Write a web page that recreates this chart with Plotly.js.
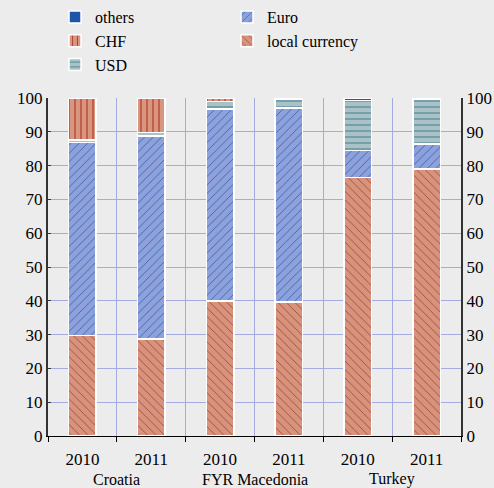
<!DOCTYPE html>
<html><head><meta charset="utf-8">
<script src="https://cdn.plot.ly/plotly-3.0.1.min.js"></script>
<style>body{margin:0;background:#ececec}#c{width:494px;height:488px}</style>
</head><body><div id="c"></div>
<script>
const countries = ["Croatia","Croatia","FYR Macedonia","FYR Macedonia","Turkey","Turkey"];
const years = ["2010","2011","2010","2011","2010","2011"];
const localCurrency = [29.7, 28.7, 40.0, 39.7, 76.5, 79.0];
const euro = [57.2, 60.1, 56.7, 57.3, 8.0, 7.4];
const usd = [0.7, 1.0, 2.3, 2.5, 14.8, 13.1];
const chf = [12.4, 10.2, 1.0, 0.5, 0.0, 0.0];
const others = [0.0, 0.0, 0.0, 0.0, 0.7, 0.5];
const yTicks = [0,10,20,30,40,50,60,70,80,90,100];

const x = years.map((_, i) => i);
const bounds = [-0.5].concat(x.map(i => i + 0.5));
const groups = [...new Set(countries)].map(c => {
  const idx = x.filter(i => countries[i] === c);
  return {name: c, pos: idx.reduce((a, b) => a + b, 0) / idx.length};
});
const font = {family: "Liberation Serif, DejaVu Serif, serif", size: 17, color: "#000"};
const smallFont = {family: "Liberation Serif, DejaVu Serif, serif", size: 16, color: "#000"};
const line = {color: "#ffffff", width: 1.5};
function bar(name, y, bg, fg, shape, rank, sol) {
  return {type: "bar", name: name, x: x, y: y, width: 0.4, legendrank: rank,
    marker: {color: bg, line: line,
      pattern: shape ? {shape: shape, bgcolor: bg, fgcolor: fg, size: 6, solidity: sol, fillmode: "replace"} : undefined},
    hoverinfo: "skip"};
}
const traces = [
  bar("local currency", localCurrency, "#d8937d", "#a24a40", "\\", 4, 0.15),
  bar("Euro", euro, "#8fa1da", "#3466b8", "/", 2, 0.15),
  bar("USD", usd, "#abc1c8", "#4e8a94", "-", 5, 0.2),
  bar("CHF", chf, "#d8967f", "#b33a2e", "|", 3, 0.2),
  bar("others", others, "#1f55a8", null, null, 1),
  {type: "scatter", x: x, y: x.map(() => null), yaxis: "y2", showlegend: false, hoverinfo: "skip"}
];
const grid = "#a3abe0";
const layout = {
  width: 494, height: 488,
  margin: {l: 48, r: 33, t: 98, b: 52},
  paper_bgcolor: "#ececec", plot_bgcolor: "#ececec",
  font: font,
  barmode: "stack",
  showlegend: true,
  legend: {orientation: "h", x: 0.017, xanchor: "left", y: 1.0, yref: "container", yanchor: "top",
    entrywidth: 127, entrywidthmode: "pixels", traceorder: "normal",
    bgcolor: "rgba(0,0,0,0)", font: smallFont},
  xaxis: {range: [-0.5, x.length - 0.5], tickvals: x, ticktext: years, ticks: "", showgrid: false,
    showline: true, linecolor: "#000", linewidth: 1, tickfont: font, zeroline: false, ticklabelstandoff: 8,
    minor: {tickvals: bounds, showgrid: true, gridcolor: grid, gridwidth: 1, ticks: "outside", ticklen: 5, tickcolor: "#000"}},
  yaxis: {range: [0, 100], tickvals: yTicks, showgrid: true, gridcolor: grid, gridwidth: 1,
    showline: true, linecolor: "#333", linewidth: 2, ticks: "inside", ticklen: 3, tickcolor: "#333",
    tickfont: font, zeroline: false},
  yaxis2: {range: [0, 100], tickvals: yTicks, overlaying: "y", side: "right", showgrid: false,
    showline: true, linecolor: "#333", linewidth: 2, ticks: "", tickfont: font, zeroline: false},
  annotations: groups.map(g => ({text: g.name, x: g.pos, xref: "x", y: -0.128, yref: "paper",
    yanchor: "middle", showarrow: false, font: smallFont}))
};
Plotly.newPlot("c", traces, layout, {displayModeBar: false, staticPlot: true});
</script></body></html>
